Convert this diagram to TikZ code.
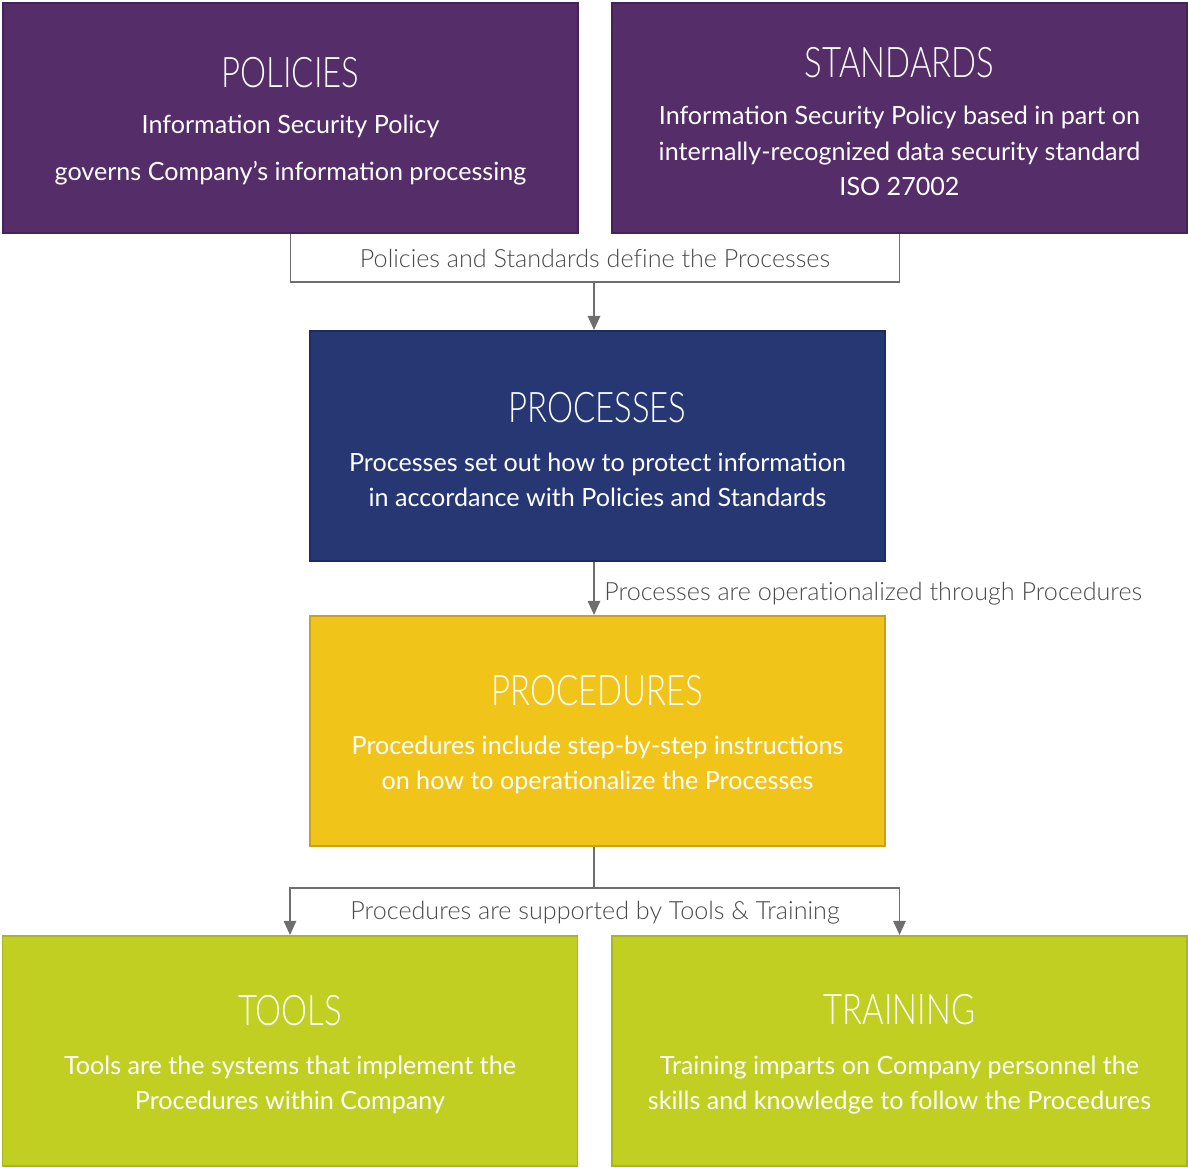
\documentclass[tikz,border=0pt]{standalone}
\usepackage{fontspec}
\setmainfont{Lato}
\newfontfamily\headfont[FakeStretch=0.78]{Lato Light}
\newfontfamily\labelfont[Ligatures=NoCommon]{Lato Light}
\usetikzlibrary{arrows.meta,calc}

\definecolor{purplefill}{HTML}{542D69}
\definecolor{purpleline}{HTML}{46225B}
\definecolor{bluefill}{HTML}{263773}
\definecolor{blueline}{HTML}{1C2B64}
\definecolor{yellowfill}{HTML}{F0C419}
\definecolor{yellowline}{HTML}{C9A21A}
\definecolor{greenfill}{HTML}{C1CE22}
\definecolor{greenline}{HTML}{AAB61E}
\definecolor{linkgrey}{HTML}{6E6E6E}
\definecolor{labelgrey}{HTML}{4A4A4A}

% title line with a little extra room above it
\newcommand{\boxtitle}[1]{{\headfont\fontsize{24}{24}\selectfont\rule{0pt}{21pt}#1}}

\tikzset{
  box/.style={minimum width=11.5cm, minimum height=4.6cm, inner sep=0pt,
    align=center, text=white, line width=1.1pt,
    font=\fontsize{14.3}{20}\selectfont},
  purplebox/.style={box, fill=purplefill, draw=purpleline},
  bluebox/.style={box, fill=bluefill, draw=blueline},
  yellowbox/.style={box, fill=yellowfill, draw=yellowline},
  greenbox/.style={box, fill=greenfill, draw=greenline},
  link/.style={draw=linkgrey, line width=1.1pt},
  arrow/.style={link, -{Triangle[width=7pt,length=8pt]}},
  linklabel/.style={text=labelgrey, font=\labelfont\fontsize{14.3}{17}\selectfont}
}

\begin{document}
\begin{tikzpicture}
\useasboundingbox (0,0) rectangle (23.76,-23.36);

% top row
\node[purplebox] (policies) at (5.81,-2.36) {\boxtitle{POLICIES}\\[6pt]
  Information Security Policy\\[7pt]
  governs Company’s information processing};
\node[purplebox] (standards) at (17.99,-2.36) {\boxtitle{STANDARDS}\\[7pt]
  Information Security Policy based in part on\\
  internally-recognized data security standard\\
  ISO 27002};

% middle column
\node[bluebox] (processes) at (11.95,-8.92) {\boxtitle{PROCESSES}\\[8pt]
  Processes set out how to protect information\\
  in accordance with Policies and Standards};
\node[yellowbox] (procedures) at (11.95,-14.62) {\boxtitle{PROCEDURES}\\[8pt]
  Procedures include step-by-step instructions\\
  on how to operationalize the Processes};

% bottom row
\node[greenbox] (tools) at (5.80,-21.02) {\boxtitle{TOOLS}\\[8pt]
  Tools are the systems that implement the\\
  Procedures within Company};
\node[greenbox] (training) at (17.99,-21.02) {\boxtitle{TRAINING}\\[8pt]
  Training imparts on Company personnel the\\
  skills and knowledge to follow the Procedures};

% connectors
\coordinate (topjoin) at (11.88,-5.64);
\coordinate (lowjoin) at (11.88,-17.76);

\draw[link] (policies.south) |- (topjoin) -| (standards.south);
\node[linklabel] (definelabel) at (11.9,-5.16) {Policies and Standards define the Processes};
\draw[arrow] (topjoin) -- (topjoin |- processes.north);

\draw[arrow] (topjoin |- processes.south) -- node[linklabel, right, pos=0.6, xshift=2pt] (operlabel)
  {Processes are operationalized through Procedures} (topjoin |- procedures.north);

\draw[link] (topjoin |- procedures.south) -- (lowjoin);
\draw[arrow] (lowjoin) -| (tools.north);
\draw[arrow] (lowjoin) -| (training.north);
\node[linklabel] (supportlabel) at (11.9,-18.26) {Procedures are supported by Tools \& Training};
\end{tikzpicture}
\end{document}
